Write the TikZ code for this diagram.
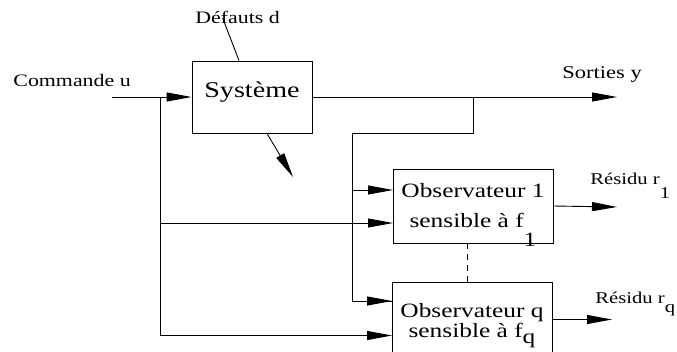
\documentclass[tikz,border=0pt]{standalone}
\usepackage{fontspec}
\setmainfont{Liberation Serif}
\usetikzlibrary{arrows.meta}
\newcommand{\lowsub}[2][0.9em]{\raisebox{-#1}[0pt][0pt]{#2}}
\newcommand{\wide}[1]{\scalebox{1.25}[1]{#1}}
\begin{document}
\begin{tikzpicture}[x=1pt,y=-1pt,>={Triangle[length=25pt,width=9pt]},line width=.9pt,
	box/.style={draw,inner sep=0pt,minimum width=160pt,align=center,font=\fontsize{20.3}{24}\selectfont},
	lab/.style={inner sep=0pt,anchor=base west,font=\fontsize{17.5}{20}\selectfont}]
	\useasboundingbox (0,0) rectangle (677,351);
	\clip (0,0) rectangle (677,351);
	% blocs
	\node[draw,inner sep=0pt,minimum width=120pt,minimum height=72pt,text height=9pt,text depth=9pt,font=\fontsize{22.5}{26}\selectfont] (sys) at (252,97) {\wide{Syst\`eme}};
	\node[box,minimum height=74pt] (obs1) at (473,206) {\wide{Observateur 1}\\[6pt] \wide{sensible \`a f\lowsub{1}}};
	\node[box,minimum height=77pt] (obsq) at (472,320.5) {\wide{Observateur q}\\[-3.5pt] \wide{sensible \`a f\lowsub[0.3em]{q}}};
	% textes
	\node[lab] (cmd) at (13,86) {\wide{Commande u}};
	\node[lab] (def) at (195,23.5) {\wide{D\'efauts d}};
	\node[lab,font=\fontsize{18}{20}\selectfont] (sor) at (562,78) {\wide{Sorties y}};
	\node[lab,font=\fontsize{16.5}{20}\selectfont] (res1) at (590,184) {\wide{R\'esidu r\lowsub{1}}};
	\node[lab,font=\fontsize{16.5}{20}\selectfont] (resq) at (595,303) {\wide{R\'esidu r\lowsub[0.6em]{q}}};
	% points
	\coordinate (cin) at (112,97);
	\coordinate (ju) at (160,97);
	\coordinate (jy) at (473,97);
	\coordinate (yout) at (617,97);
	\coordinate (dout) at (293,177);
	\coordinate (o1a) at (393,190);
	\coordinate (o1b) at (393,223);
	\coordinate (oqa) at (392,301);
	\coordinate (oqb) at (392,335.5);
	\coordinate (oqr) at (552,319.5);
	\coordinate (r1) at (617,207);
	\coordinate (rq) at (612,319.5);
	% liaisons
	\draw ([xshift=-15pt,yshift=6pt]def.south) -- ([xshift=-13pt]sys.north);
	\draw[->] (cin) -- (sys.west);
	\draw[->] ([xshift=15pt]sys.south) -- (dout);
	\draw[->] (sys.east) -- (yout);
	\draw (jy) -- (473,133) -- (352,133) |- (oqa);
	\draw[->] (352,190) -- (o1a);
	\draw[->] (352,301) -- (oqa);
	\draw[->] (ju) |- (oqb);
	\draw[->] (160,223) -- (o1b);
	\draw[->] (obs1.east) -- (r1);
	\draw[->] (oqr) -- (rq);
	\draw[dash pattern=on 6pt off 5pt] ([xshift=-6pt]obs1.south) -- ([xshift=-5pt]obsq.north);
\end{tikzpicture}
\end{document}
